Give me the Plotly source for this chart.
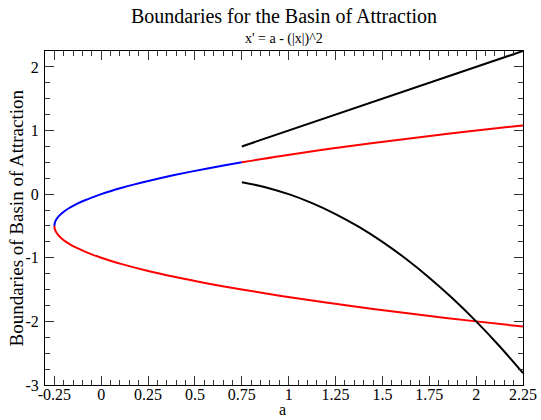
import plotly.graph_objects as go

# Data
blue_a = [-0.25, -0.2475, -0.24, -0.2275, -0.21, -0.1875, -0.16, -0.1275, -0.09, -0.0475, 0.0,
          0.0525, 0.11, 0.1725, 0.24, 0.3125, 0.39, 0.4725, 0.56, 0.6525, 0.75]
blue_y = [-0.5, -0.45, -0.4, -0.35, -0.3, -0.25, -0.2, -0.15, -0.1, -0.05, 0.0,
          0.05, 0.1, 0.15, 0.2, 0.25, 0.3, 0.35, 0.4, 0.45, 0.5]

red_low_a = [-0.25, -0.2475, -0.24, -0.2275, -0.21, -0.1875, -0.16, -0.1275, -0.09, -0.0475, 0.0,
             0.0525, 0.11, 0.24, 0.39, 0.56, 0.75, 0.96, 1.19, 1.44, 1.71, 2.0, 2.25]
red_low_y = [-0.5, -0.55, -0.6, -0.65, -0.7, -0.75, -0.8, -0.85, -0.9, -0.95, -1.0,
             -1.05, -1.1, -1.2, -1.3, -1.4, -1.5, -1.6, -1.7, -1.8, -1.9, -2.0, -2.081]

red_up_a = [0.75, 0.96, 1.19, 1.44, 1.71, 2.0, 2.25]
red_up_y = [0.5, 0.6, 0.7, 0.8, 0.9, 1.0, 1.081]

black_up_a = [0.75, 2.25]
black_up_y = [0.75, 2.25]

black_low_a = [0.75, 0.875, 1.0, 1.125, 1.25, 1.375, 1.5, 1.625, 1.75, 1.875, 2.0, 2.125, 2.25]
black_low_y = [0.1875, 0.1094, 0.0, -0.1406, -0.3125, -0.5156, -0.75, -1.0156, -1.3125,
               -1.6406, -2.0, -2.3906, -2.8125]

x_ticks = [-0.25, 0, 0.25, 0.5, 0.75, 1, 1.25, 1.5, 1.75, 2, 2.25]
x_ticktext = ["-0.25", "0", "0.25", "0.5", "0.75", "1", "1.25", "1.5", "1.75", "2", "2.25"]
y_ticks = [-3, -2, -1, 0, 1, 2]
y_ticktext = ["-3", "-2", "-1", "0", "1", "2"]

FONT = "Liberation Serif, Times New Roman, serif"

fig = go.Figure()
line_kw = dict(mode="lines", hoverinfo="skip", showlegend=False)
fig.add_trace(go.Scatter(x=red_low_a, y=red_low_y, line=dict(color="#ff0000", width=2, shape="spline"), **line_kw))
fig.add_trace(go.Scatter(x=blue_a, y=blue_y, line=dict(color="#0000ff", width=2, shape="spline"), **line_kw))
fig.add_trace(go.Scatter(x=red_up_a, y=red_up_y, line=dict(color="#ff0000", width=2, shape="spline"), **line_kw))
fig.add_trace(go.Scatter(x=black_up_a, y=black_up_y, line=dict(color="#000000", width=2), **line_kw))
fig.add_trace(go.Scatter(x=black_low_a, y=black_low_y, line=dict(color="#000000", width=2, shape="spline"), **line_kw))

axis_common = dict(
    showgrid=False, zeroline=False, showline=True, linecolor="black", linewidth=1,
    mirror="ticks", ticks="inside", ticklen=9, tickwidth=1, tickcolor="#333",
    tickfont=dict(family=FONT, size=16, color="black"), automargin=False,
)

fig.update_xaxes(range=[-0.3, 2.25], tickmode="array", tickvals=x_ticks, ticktext=x_ticktext,
                 minor=dict(dtick=0.05, tick0=0, ticks="inside", ticklen=5, tickcolor="#333", showgrid=False),
                 ticklabelstandoff=-5,
                 **axis_common)
fig.update_yaxes(range=[-3, 2.25], tickmode="array", tickvals=y_ticks, ticktext=y_ticktext,
                 minor=dict(dtick=0.25, tick0=0, ticks="inside", ticklen=5, tickcolor="#333", showgrid=False),
                 ticklabelstandoff=2,
                 **axis_common)

fig.add_annotation(text="Boundaries of Basin of Attraction", xref="paper", yref="paper",
                   x=0, xshift=-17, y=0.5, xanchor="right", yanchor="middle", textangle=-90,
                   showarrow=False, font=dict(family=FONT, size=19, color="black"))
fig.add_annotation(text="a", xref="paper", yref="paper",
                   x=0.5, y=0, yshift=-35, xshift=-2, xanchor="center", yanchor="bottom",
                   showarrow=False, font=dict(family=FONT, size=16, color="black"))

fig.add_annotation(text="Boundaries for the Basin of Attraction", xref="paper", yref="paper",
                   x=0.5, y=1, yshift=22, xanchor="center", yanchor="bottom", showarrow=False,
                   font=dict(family=FONT, size=20, color="black"))
fig.add_annotation(text="x' = a - (|x|)^2", xref="paper", yref="paper",
                   x=0.5, y=1, yshift=2, xanchor="center", yanchor="bottom", showarrow=False,
                   font=dict(family=FONT, size=14, color="black"))

fig.update_layout(
    width=541, height=420,
    margin=dict(l=45, r=18, t=51, b=35, autoexpand=False),
    paper_bgcolor="white", plot_bgcolor="white",
    font=dict(family=FONT, color="black"),
)

fig.write_html("out.html")
